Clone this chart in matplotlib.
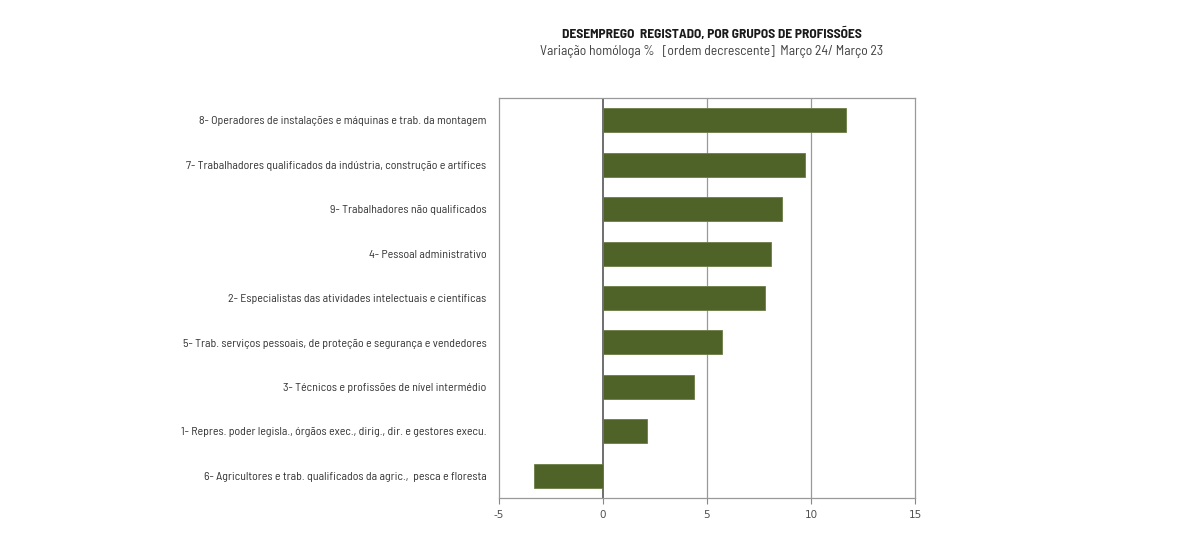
import matplotlib
matplotlib.use("Agg")
import matplotlib.pyplot as plt

categories = [
    "8- Operadores de instalações e máquinas e trab. da montagem",
    "7- Trabalhadores qualificados da indústria, construção e artífices",
    "9- Trabalhadores não qualificados",
    "4- Pessoal administrativo",
    "2- Especialistas das atividades intelectuais e científicas",
    "5- Trab. serviços pessoais, de proteção e segurança e vendedores",
    "3- Técnicos e profissões de nível intermédio",
    "1- Repres. poder legisla., órgãos exec., dirig., dir. e gestores execu.",
    "6- Agricultores e trab. qualificados da agric.,  pesca e floresta",
]
values = [11.7, 9.7, 8.6, 8.1, 7.8, 5.7, 4.4, 2.1, -3.3]
xticks = [-5, 0, 5, 10, 15]

plt.rcParams["font.family"] = ["Barlow Semi Condensed", "Barlow Condensed", "DejaVu Sans"]

fig = plt.figure(figsize=(12, 5.53), dpi=100)
ax = fig.add_axes([0.4158, 0.0995, 0.3467, 0.7233])

y = list(range(len(categories)))
ax.barh(y, values, height=0.54, color="#4f6228", edgecolor="#6b7d45", linewidth=0.6, zorder=3)

ax.set_xlim(-5, 15)
ax.set_ylim(len(categories) - 0.5, -0.5)
ax.set_xticks(xticks)
ax.set_xticklabels([str(t) for t in xticks], color="#505050", fontsize=7.5,
                   family="DejaVu Sans")
ax.set_yticks(y)
ax.set_yticklabels(categories, color="#333333", fontsize=8.6)
ax.tick_params(axis="y", length=0, pad=9)
ax.tick_params(axis="x", length=4, color="#888888", pad=5)

for t in [0, 5, 10]:
    ax.axvline(t, color="#555555" if t == 0 else "#999999", linewidth=1.2 if t == 0 else 0.9, zorder=1)

for s in ax.spines.values():
    s.set_color("#999999")
    s.set_linewidth(0.9)

fig.text(0.593, 0.939, "DESEMPREGO  REGISTADO, POR GRUPOS DE PROFISSÕES",
         ha="center", va="center", fontsize=9.7, fontweight="bold", color="#1a1a1a")
fig.text(0.593, 0.906, "Variação homóloga %   [ordem decrescente]  Março 24/ Março 23",
         ha="center", va="center", fontsize=9.8, color="#404040")

fig.savefig("out.png", dpi=100)
